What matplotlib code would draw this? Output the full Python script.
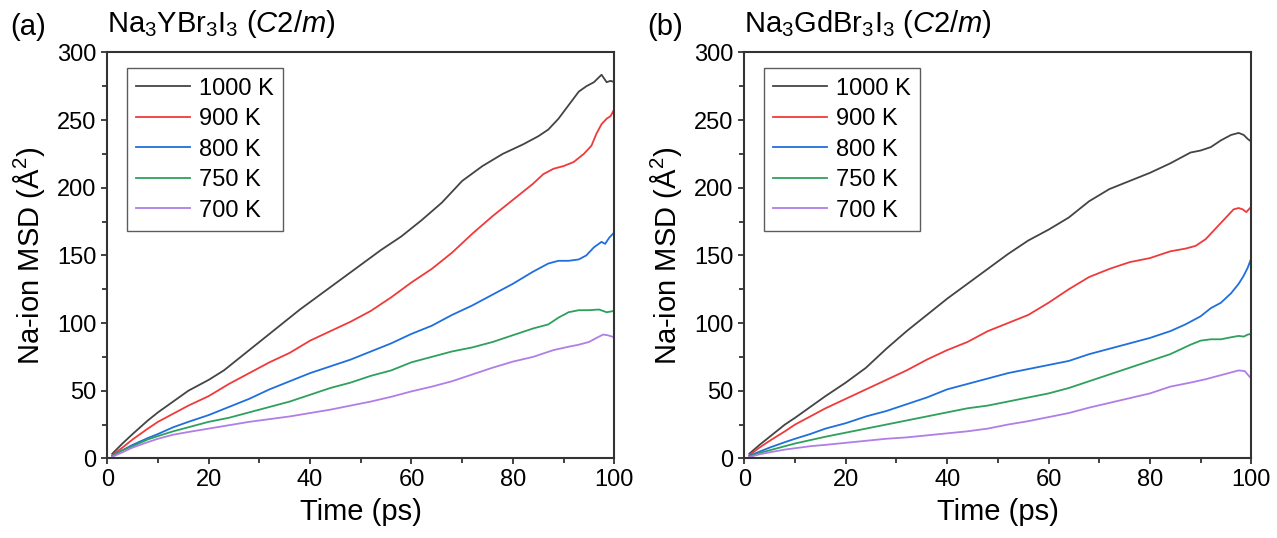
import matplotlib
matplotlib.use('Agg')
import matplotlib.pyplot as plt
from matplotlib.ticker import MultipleLocator

plt.rcParams['font.family'] = ['Liberation Sans', 'DejaVu Sans']
plt.rcParams['mathtext.fontset'] = 'custom'
plt.rcParams['mathtext.rm'] = 'Liberation Sans'
plt.rcParams['mathtext.it'] = 'Liberation Sans:italic'

temps = ['1000 K', '900 K', '800 K', '750 K', '700 K']
colores = ['#444444', '#f03a3a', '#1f6fdc', '#2ea05c', '#b07ee6']

# Panel (a): Na3YBr3I3
ta_1000 = [1, 3, 5, 8, 10, 13, 16, 20, 23, 26, 30, 34, 38, 42, 46, 50, 54, 58, 62, 66, 70, 74, 78, 82, 85, 87, 89, 91, 93, 94.5, 96, 97.5, 98.5, 99.3, 100]
ya_1000 = [3.5, 11, 18, 28, 34, 42, 50, 58, 65, 74, 86, 98, 110, 121, 132, 143, 154, 164, 176, 189, 205, 216, 225, 232, 238, 243, 251, 261, 271, 275, 278, 283.5, 278, 279, 278]
ta_900 = [1, 3, 5, 8, 10, 13, 16, 20, 24, 28, 32, 36, 40, 44, 48, 52, 56, 60, 64, 68, 72, 76, 80, 84, 86, 88, 90, 92, 94, 95.5, 96.5, 97.5, 98.5, 99.3, 100]
ya_900 = [2.5, 8, 14, 22, 27, 33, 39, 46, 55, 63, 71, 78, 87, 94, 101, 109, 119, 130, 140, 152, 166, 179, 191, 203, 210, 214, 216, 219, 225, 231, 240, 247, 251, 253, 258]
ta_800 = [1, 3, 5, 8, 10, 13, 16, 20, 24, 28, 32, 36, 40, 44, 48, 52, 56, 60, 64, 68, 72, 76, 80, 84, 87, 89, 91, 93, 94.5, 96, 97.5, 98.2, 99, 100]
ya_800 = [2, 6, 10, 15, 18, 23, 27, 32, 38, 44, 51, 57, 63, 68, 73, 79, 85, 92, 98, 106, 113, 121, 129, 138, 144, 146, 146, 147, 150, 156, 160, 158.5, 163, 167]
ta_750 = [1, 3, 5, 8, 10, 13, 16, 20, 24, 28, 32, 36, 40, 44, 48, 52, 56, 60, 64, 68, 72, 76, 80, 84, 87, 89, 91, 93, 95, 97, 98.5, 99.3, 100]
ya_750 = [1.8, 6, 9, 14, 16.5, 20, 23, 27, 30, 34, 38, 42, 47, 52, 56, 61, 65, 71, 75, 79, 82, 86, 91, 96, 99, 104, 108, 109.5, 109.5, 110, 108, 108.5, 109]
ta_700 = [1, 3, 5, 8, 10, 13, 16, 20, 24, 28, 32, 36, 40, 44, 48, 52, 56, 60, 64, 68, 72, 76, 80, 84, 88, 91, 93, 95, 96.5, 97.8, 98.7, 100]
ya_700 = [1.2, 4.5, 8, 12, 14.5, 17.5, 19.5, 22, 24.5, 27, 29, 31, 33.5, 36, 39, 42, 45.5, 49.5, 53, 57, 62, 67, 71.5, 75, 80, 82.5, 84, 86, 89, 91.5, 91, 89.5]

# Panel (b): Na3GdBr3I3
tb_1000 = [1, 3, 5, 8, 10, 13, 16, 20, 24, 28, 32, 36, 40, 44, 48, 52, 56, 60, 64, 68, 72, 76, 80, 84, 88, 90, 92, 94, 96, 97.5, 98.5, 99.3, 100]
yb_1000 = [3.5, 10, 16, 25, 30, 38, 46, 56, 67, 81, 94, 106, 118, 129, 140, 151, 161, 169, 178, 190, 199, 205, 211, 218, 226, 227.5, 230, 235, 239, 240.5, 239, 236, 234]
tb_900 = [1, 3, 5, 8, 10, 13, 16, 20, 24, 28, 32, 36, 40, 44, 48, 52, 56, 60, 64, 68, 72, 76, 80, 84, 87, 89, 91, 93, 95, 96.5, 97.5, 98.3, 99, 100]
yb_900 = [2.5, 8, 13, 20, 25, 31, 37, 44, 51, 58, 65, 73, 80, 86, 94, 100, 106, 115, 125, 134, 140, 145, 148, 153, 155, 157, 162, 170, 178, 184, 185, 184, 182, 186]
tb_800 = [1, 3, 5, 8, 10, 13, 16, 20, 24, 28, 32, 36, 40, 44, 48, 52, 56, 60, 64, 68, 72, 76, 80, 84, 87, 90, 92, 94, 96, 97.5, 98.5, 99.3, 100]
yb_800 = [2, 5, 8, 12, 14.5, 18, 22, 26, 31, 35, 40, 45, 51, 55, 59, 63, 66, 69, 72, 77, 81, 85, 89, 94, 99, 105, 111, 115, 122, 129, 135, 141, 148]
tb_750 = [1, 3, 5, 8, 10, 13, 16, 20, 24, 28, 32, 36, 40, 44, 48, 52, 56, 60, 64, 68, 72, 76, 80, 84, 88, 90, 92, 94, 96, 97.5, 98.5, 99.3, 100]
yb_750 = [1.5, 4, 6, 9, 11, 13.5, 16, 19, 22, 25, 28, 31, 34, 37, 39, 42, 45, 48, 52, 57, 62, 67, 72, 77, 84, 87, 88, 88, 89.5, 90.5, 90, 91.5, 92]
tb_700 = [1, 3, 5, 8, 10, 13, 16, 20, 24, 28, 32, 36, 40, 44, 48, 52, 56, 60, 64, 68, 72, 76, 80, 84, 88, 91, 94, 96, 97.5, 98.7, 99.5, 100]
yb_700 = [1, 3, 4.5, 6.5, 7.5, 9, 10, 11.5, 13, 14.5, 15.5, 17, 18.5, 20, 22, 25, 27.5, 30.5, 33.5, 37.5, 41, 44.5, 48, 53, 56, 58.5, 61.5, 63.5, 65, 64.5, 61, 59]

panel_a = [(ta_1000, ya_1000), (ta_900, ya_900), (ta_800, ya_800), (ta_750, ya_750), (ta_700, ya_700)]
panel_b = [(tb_1000, yb_1000), (tb_900, yb_900), (tb_800, yb_800), (tb_750, yb_750), (tb_700, yb_700)]
titulos = [r'Na$_3$YBr$_3$I$_3$ ($\mathit{C2/m}$)', r'Na$_3$GdBr$_3$I$_3$ ($\mathit{C2/m}$)']
letras = ['(a)', '(b)']

fig = plt.figure(figsize=(12.77, 5.38), dpi=100)
izq = [0.0840, 0.5829]

for k, datos in enumerate([panel_a, panel_b]):
    ax = fig.add_axes([izq[k], 0.148, 0.397, 0.7546])
    for (t, y), lab, c in zip(datos, temps, colores):
        ax.plot(t, y, color=c, lw=1.3, label=lab)
    ax.set_xlim(0, 100)
    ax.set_ylim(0, 300)
    ax.xaxis.set_major_locator(MultipleLocator(20))
    ax.xaxis.set_minor_locator(MultipleLocator(10))
    ax.yaxis.set_major_locator(MultipleLocator(50))
    ax.yaxis.set_minor_locator(MultipleLocator(25))
    ax.tick_params(which='both', direction='out', top=False, right=False,
                   width=1.3, color='#333333', labelsize=17)
    ax.tick_params(which='major', length=4.5)
    ax.tick_params(which='minor', length=3.5)
    for s in ax.spines.values():
        s.set_linewidth(1.5)
        s.set_color('#333333')
    ax.set_xlabel('Time (ps)', fontsize=21, labelpad=5)
    ax.set_ylabel(r'Na-ion MSD (Å$^2$)', fontsize=21, labelpad=7)
    leg = ax.legend(loc='upper left', bbox_to_anchor=(0.038, 0.961), fontsize=17,
                    frameon=True, fancybox=False, borderpad=0.4, labelspacing=0.36,
                    handlelength=2.3, handletextpad=0.35, borderaxespad=0)
    leg.get_frame().set_edgecolor('#333333')
    leg.get_frame().set_linewidth(1.0)
    ax.text(0.0, 1.03, titulos[k], transform=ax.transAxes, fontsize=21,
            ha='left', va='bottom')
    fig.text(izq[k] - 0.076, 0.95, letras[k], fontsize=21, ha='left', va='center')

fig.savefig('out.png', dpi=100)
